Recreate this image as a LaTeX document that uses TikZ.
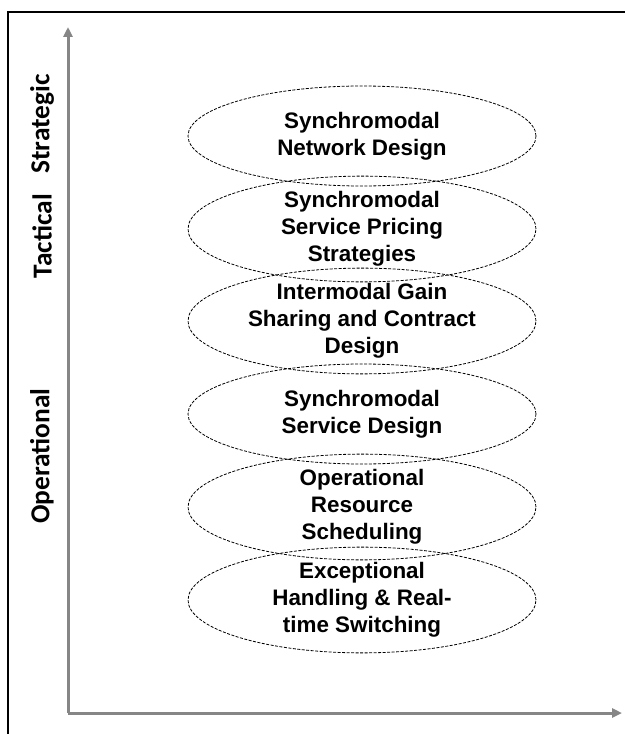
\documentclass[tikz,border=0pt]{standalone}
\usepackage{fontspec}
\setmainfont{Liberation Sans}
\newfontfamily\calib{Carlito}
\usetikzlibrary{shapes.geometric,arrows.meta}
\tikzset{
  topic/.style={ellipse, draw=black, line width=0.8bp, dash pattern=on 3bp off 1.5bp,
    minimum width=348bp, minimum height=100bp, inner sep=0pt, align=center,
    font=\fontsize{22.5}{27}\selectfont\bfseries},
  axisline/.style={draw=gray!95, line width=3bp, -{Triangle[length=10bp,width=9bp]}},
  level/.style={rotate=90, font=\fontsize{27.5}{30}\selectfont\calib\bfseries, anchor=center}
}
\begin{document}
\begin{tikzpicture}[x=1bp,y=-1bp]
\useasboundingbox (0,0) rectangle (625,734);
\fill[white] (0,0) rectangle (625,734);
\draw[line width=2bp] (8,12) rectangle (640,760);
\coordinate (o) at (68,713);
\coordinate (ytip) at (68,27);
\coordinate (xtip) at (622,713);
\draw[axisline] (o) -- (ytip);
\draw[axisline] (o) -- (xtip);
\node[level] (s) at (42,124) {Strategic};
\node[level] (t) at (42,236) {Tactical};
\node[level] (op) at (42,456) {Operational};
\node[topic] (e1) at (362,136) {Synchromodal\\Network Design};
\node[topic] (e2) at (362,229) {Synchromodal\\Service Pricing\\Strategies};
\node[topic] (e3) at (362,321) {Intermodal Gain\\Sharing and Contract\\Design};
\node[topic] (e4) at (362,414) {Synchromodal\\Service Design};
\node[topic] (e5) at (362,507) {Operational\\Resource\\Scheduling};
\node[topic] (e6) at (362,600) {Exceptional\\Handling \& Real-\\time Switching};
\end{tikzpicture}
\end{document}
